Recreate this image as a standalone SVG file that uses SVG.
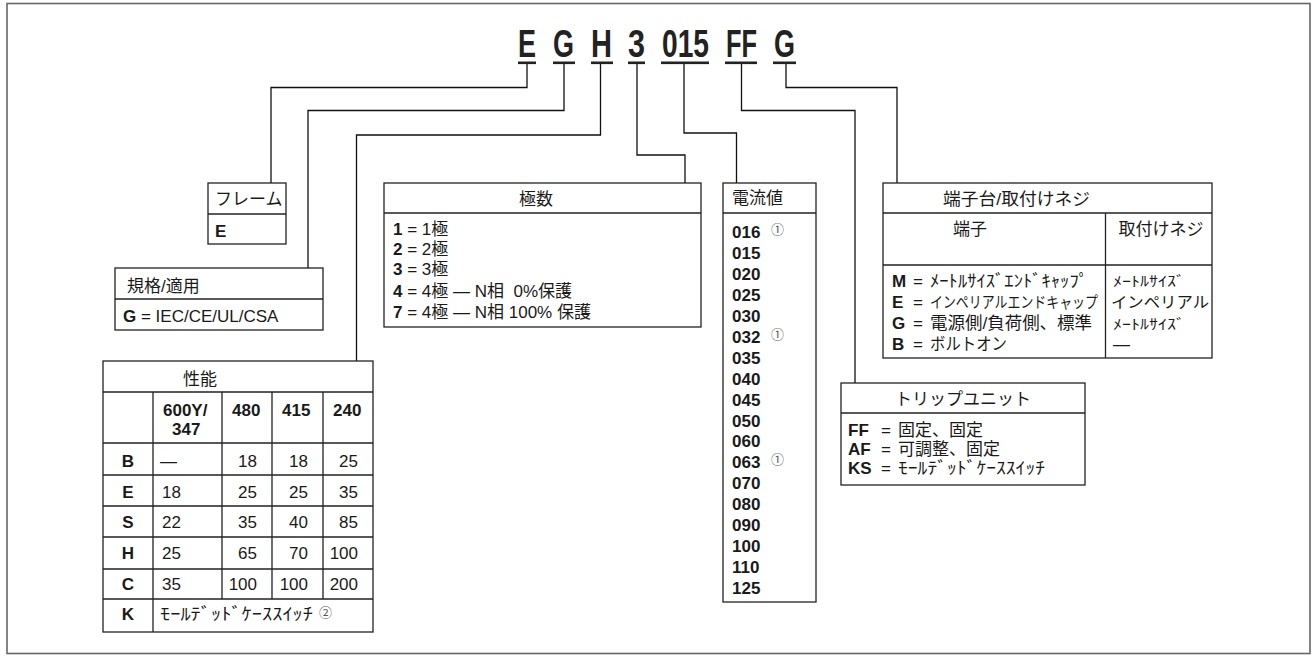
<svg xmlns="http://www.w3.org/2000/svg" width="1315" height="656" viewBox="0 0 1315 656">
<style>
.frame{fill:#fff;stroke:#666;stroke-width:1.6}
.bx{fill:#fff;stroke:#222;stroke-width:1.3}
.ln{stroke:#222;stroke-width:1.3;fill:none}
.cn{fill:none;stroke:#111;stroke-width:1.3}
.t{font-family:"Liberation Sans","Noto Sans CJK JP",sans-serif;font-size:17px;fill:#1a1a1a}
.b{font-weight:bold}
.hd{font-family:"Liberation Sans",sans-serif;font-weight:bold;font-size:38px;fill:#222}
.ul{fill:#222}
.fn{font-family:"Noto Sans CJK JP","DejaVu Sans",sans-serif;font-size:13px;fill:#555}
.m{text-anchor:middle}
.e{text-anchor:end}
.sm{font-size:15.5px}
.xs{font-size:14px}
</style>
<rect class="frame" x="7" y="3.5" width="1303" height="650"/>

<g id="code">
<text class="hd" x="518" y="57" textLength="18" lengthAdjust="spacingAndGlyphs">E</text>
<text class="hd" x="553" y="57" textLength="21" lengthAdjust="spacingAndGlyphs">G</text>
<text class="hd" x="591" y="57" textLength="21" lengthAdjust="spacingAndGlyphs">H</text>
<text class="hd" x="628" y="57" textLength="17" lengthAdjust="spacingAndGlyphs">3</text>
<text class="hd" x="662" y="57" textLength="47" lengthAdjust="spacingAndGlyphs">015</text>
<text class="hd" x="726" y="57" textLength="31" lengthAdjust="spacingAndGlyphs">FF</text>
<text class="hd" x="774" y="57" textLength="21" lengthAdjust="spacingAndGlyphs">G</text>
<rect class="ul" x="518" y="61.5" width="18" height="2.6"/>
<rect class="ul" x="553" y="61.5" width="22" height="2.6"/>
<rect class="ul" x="591" y="61.5" width="22" height="2.6"/>
<rect class="ul" x="628" y="61.5" width="17" height="2.6"/>
<rect class="ul" x="661" y="61.5" width="48" height="2.6"/>
<rect class="ul" x="725" y="61.5" width="32" height="2.6"/>
<rect class="ul" x="773" y="61.5" width="23" height="2.6"/>
</g>

<g id="connectors">
<path class="cn" d="M527,64 V87.5 H271 V183"/>
<path class="cn" d="M564,64 V110.5 H308 V268"/>
<path class="cn" d="M600.5,64 V135 H356.5 V361"/>
<path class="cn" d="M637,64 V155 H685 V183"/>
<path class="cn" d="M684,64 V133 H736.5 V183"/>
<path class="cn" d="M741.5,64 V110.5 H855 V383"/>
<path class="cn" d="M786,64 V87.5 H897 V183"/>
</g>

<g id="frame-box">
<rect class="bx" x="208" y="183" width="78" height="61"/>
<line class="ln" x1="208" y1="214" x2="286" y2="214"/>
<text class="t" x="215" y="205">フレーム</text>
<text class="t b" x="215" y="237">E</text>
</g>

<g id="standard-box">
<rect class="bx" x="115" y="268" width="208" height="62"/>
<line class="ln" x1="115" y1="299" x2="323" y2="299"/>
<text class="t" x="127" y="292">規格/適用</text>
<text class="t" x="123" y="322"><tspan class="b">G</tspan> = IEC/CE/UL/CSA</text>
</g>

<g id="performance-table">
<rect class="bx" x="103" y="361" width="270" height="271"/>
<path class="ln" d="M103,392 H373 M103,443 H373 M103,475 H373 M103,506 H373 M103,537 H373 M103,569 H373 M103,599 H373 M153,392 V632 M222,392 V599 M272,392 V599 M323,392 V599"/>
<text class="t" x="183" y="385">性能</text>
<text class="t b" x="163" y="416">600Y/</text>
<text class="t b" x="172" y="435">347</text>
<text class="t b" x="232" y="416">480</text>
<text class="t b" x="282" y="416">415</text>
<text class="t b" x="333" y="416">240</text>
<text class="t b m" x="128" y="467">B</text>
<text class="t b m" x="128" y="498">E</text>
<text class="t b m" x="128" y="528">S</text>
<text class="t b m" x="128" y="559">H</text>
<text class="t b m" x="128" y="590">C</text>
<text class="t b m" x="128" y="620">K</text>
<text class="t" x="160" y="467">—</text>
<text class="t e" x="257" y="467">18</text>
<text class="t e" x="308" y="467">18</text>
<text class="t e" x="358" y="467">25</text>
<text class="t" x="162" y="498">18</text>
<text class="t e" x="257" y="498">25</text>
<text class="t e" x="308" y="498">25</text>
<text class="t e" x="358" y="498">35</text>
<text class="t" x="162" y="528">22</text>
<text class="t e" x="257" y="528">35</text>
<text class="t e" x="308" y="528">40</text>
<text class="t e" x="358" y="528">85</text>
<text class="t" x="162" y="559">25</text>
<text class="t e" x="257" y="559">65</text>
<text class="t e" x="308" y="559">70</text>
<text class="t e" x="358" y="559">100</text>
<text class="t" x="162" y="590">35</text>
<text class="t e" x="257" y="590">100</text>
<text class="t e" x="308" y="590">100</text>
<text class="t e" x="358" y="590">200</text>
<text class="t" x="160" y="620" textLength="153" lengthAdjust="spacingAndGlyphs">ﾓｰﾙﾃﾞｯﾄﾞｹｰｽｽｲｯﾁ</text>
<text class="fn" x="319" y="617">②</text>
</g>

<g id="poles-box">
<rect class="bx" x="384" y="183" width="317" height="144"/>
<line class="ln" x1="384" y1="213" x2="701" y2="213"/>
<text class="t m" x="536" y="205">極数</text>
<text class="t" x="393" y="235"><tspan class="b">1</tspan> = 1極</text>
<text class="t" x="393" y="255"><tspan class="b">2</tspan> = 2極</text>
<text class="t" x="393" y="275"><tspan class="b">3</tspan> = 3極</text>
<text class="t" x="393" y="297"><tspan class="b">4</tspan> = 4極 — N相&#160; 0%保護</text>
<text class="t" x="393" y="318"><tspan class="b">7</tspan> = 4極 — N相 100% 保護</text>
</g>

<g id="current-box">
<rect class="bx" x="723" y="183" width="93" height="419"/>
<line class="ln" x1="723" y1="213" x2="816" y2="213"/>
<text class="t" x="732" y="204">電流値</text>
<text class="t b" x="732" y="238">016</text>
<text class="fn" x="771" y="234">①</text>
<text class="t b" x="732" y="259">015</text>
<text class="t b" x="732" y="280">020</text>
<text class="t b" x="732" y="301">025</text>
<text class="t b" x="732" y="322">030</text>
<text class="t b" x="732" y="343">032</text>
<text class="fn" x="771" y="339">①</text>
<text class="t b" x="732" y="364">035</text>
<text class="t b" x="732" y="385">040</text>
<text class="t b" x="732" y="406">045</text>
<text class="t b" x="732" y="427">050</text>
<text class="t b" x="732" y="447">060</text>
<text class="t b" x="732" y="468">063</text>
<text class="fn" x="771" y="464">①</text>
<text class="t b" x="732" y="489">070</text>
<text class="t b" x="732" y="510">080</text>
<text class="t b" x="732" y="531">090</text>
<text class="t b" x="732" y="552">100</text>
<text class="t b" x="732" y="573">110</text>
<text class="t b" x="732" y="594">125</text>
</g>

<g id="terminal-box">
<rect class="bx" x="883" y="183" width="329" height="175"/>
<path class="ln" d="M883,213 H1212 M883,265 H1212 M1105.5,213 V358"/>
<text class="t" x="943" y="205" textLength="147" lengthAdjust="spacingAndGlyphs">端子台/取付けネジ</text>
<text class="t m" x="970" y="235">端子</text>
<text class="t m" x="1161" y="235">取付けネジ</text>
<text class="t b" x="892" y="287">M</text>
<text class="t" x="913" y="287">=</text>
<text class="t" x="930" y="287" textLength="158" lengthAdjust="spacingAndGlyphs">ﾒｰﾄﾙｻｲｽﾞｴﾝﾄﾞｷｬｯﾌﾟ</text>
<text class="t b" x="892" y="308">E</text>
<text class="t" x="913" y="308">=</text>
<text class="t sm" x="0" y="0" transform="translate(930,308) scale(0.835,1)">インペリアルエンドキャップ</text>
<text class="t b" x="892" y="329">G</text>
<text class="t" x="913" y="329">=</text>
<text class="t" x="930" y="329" textLength="162" lengthAdjust="spacingAndGlyphs">電源側/負荷側、標準</text>
<text class="t b" x="892" y="350">B</text>
<text class="t" x="913" y="350">=</text>
<text class="t" x="930" y="350" textLength="77" lengthAdjust="spacingAndGlyphs">ボルトオン</text>
<text class="t xs" x="1113" y="286" textLength="72" lengthAdjust="spacingAndGlyphs">ﾒｰﾄﾙｻｲｽﾞ</text>
<text class="t sm" x="1111" y="308" textLength="98" lengthAdjust="spacingAndGlyphs">インペリアル</text>
<text class="t xs" x="1113" y="329" textLength="72" lengthAdjust="spacingAndGlyphs">ﾒｰﾄﾙｻｲｽﾞ</text>
<text class="t" x="1113" y="350">—</text>
</g>

<g id="trip-box">
<rect class="bx" x="841" y="383" width="244" height="102"/>
<line class="ln" x1="841" y1="413" x2="1085" y2="413"/>
<text class="t m" x="963" y="405">トリップユニット</text>
<text class="t b" x="848" y="436">FF</text>
<text class="t" x="881" y="436">=</text>
<text class="t" x="898" y="436">固定、固定</text>
<text class="t b" x="848" y="455">AF</text>
<text class="t" x="881" y="455">=</text>
<text class="t" x="898" y="455">可調整、固定</text>
<text class="t b" x="848" y="474">KS</text>
<text class="t" x="881" y="474">=</text>
<text class="t" x="898" y="474" textLength="147" lengthAdjust="spacingAndGlyphs">ﾓｰﾙﾃﾞｯﾄﾞｹｰｽｽｲｯﾁ</text>
</g>
</svg>
